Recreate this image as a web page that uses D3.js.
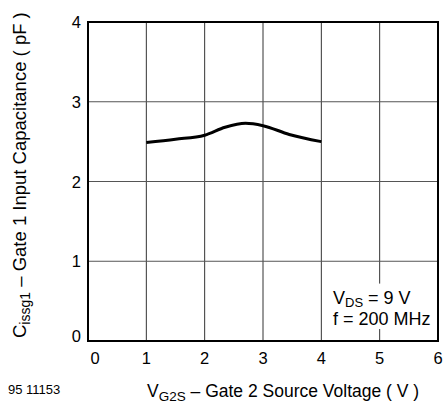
<!DOCTYPE html>
<html>
<head>
<meta charset="utf-8">
<script src="https://cdn.jsdelivr.net/npm/d3@7"></script>
<style>
  body { margin: 0; background: #fff; }
  text { font-family: "Liberation Sans", Arial, sans-serif; fill: #000; }
</style>
</head>
<body>
<div id="app"></div>
<script>
// Data
const vg2s = [1, 1.5, 2, 2.35, 2.7, 3, 3.45, 4];
const ciss = [2.49, 2.53, 2.58, 2.68, 2.73, 2.70, 2.59, 2.50];
const xTicks = [0, 1, 2, 3, 4, 5, 6];
const yTicks = [0, 1, 2, 3, 4];

const width = 444, height = 403;
const margin = { left: 88, top: 22, right: 6, bottom: 62 };

const x = d3.scaleLinear().domain([0, 6]).range([margin.left, width - margin.right]);
const y = d3.scaleLinear().domain([0, 4]).range([height - margin.bottom, margin.top]);

const svg = d3.select('#app').append('svg')
    .attr('width', width)
    .attr('height', height);

// grid
svg.append('g')
    .selectAll('line')
    .data(xTicks.slice(1, -1))
    .enter().append('line')
    .attr('x1', d => x(d)).attr('x2', d => x(d))
    .attr('y1', y(0)).attr('y2', y(4))
    .attr('stroke', '#333')
    .attr('stroke-width', 1);

svg.append('g')
    .selectAll('line')
    .data(yTicks.slice(1, -1))
    .enter().append('line')
    .attr('x1', x(0)).attr('x2', x(6))
    .attr('y1', d => y(d)).attr('y2', d => y(d))
    .attr('stroke', '#555')
    .attr('stroke-width', 1);

// legend box (white behind text)
svg.append('rect')
    .attr('x', x(4.1)).attr('y', y(0.72))
    .attr('width', x(5.95) - x(4.1)).attr('height', y(0.15) - y(0.72))
    .attr('fill', '#fff');

// frame
svg.append('rect')
    .attr('x', x(0)).attr('y', y(4))
    .attr('width', x(6) - x(0)).attr('height', y(0) - y(4))
    .attr('fill', 'none')
    .attr('stroke', '#000')
    .attr('stroke-width', 2);

// curve
const line = d3.line()
    .x((d, i) => x(vg2s[i]))
    .y(d => y(d))
    .curve(d3.curveMonotoneX);

svg.append('path')
    .datum(ciss)
    .attr('d', line)
    .attr('fill', 'none')
    .attr('stroke', '#000')
    .attr('stroke-width', 3);

// tick labels
svg.append('g')
    .selectAll('text')
    .data(xTicks)
    .enter().append('text')
    .attr('x', d => x(d) + (d === 0 ? 7 : 0))
    .attr('y', y(0) + 23)
    .attr('text-anchor', 'middle')
    .style('font-size', '16.5px')
    .text(d => d);

svg.append('g')
    .selectAll('text')
    .data(yTicks)
    .enter().append('text')
    .attr('x', x(0) - 7)
    .attr('y', d => y(d) + 6 - (d === 0 ? 5 : 0))
    .attr('text-anchor', 'end')
    .style('font-size', '16.5px')
    .text(d => d);

// legend text
const leg = svg.append('text')
    .attr('x', 333).attr('y', 304)
    .style('font-size', '18px');
leg.append('tspan').text('V');
leg.append('tspan').attr('dy', 3).style('font-size', '13px').text('DS');
leg.append('tspan').attr('dy', -3).text(' = 9 V');

svg.append('text')
    .attr('x', 333).attr('y', 325)
    .style('font-size', '18px')
    .text('f = 200 MHz');

// x axis title
const xt = svg.append('text')
    .attr('x', 147).attr('y', 397)
    .style('font-size', '17.5px');
xt.append('tspan').text('V');
xt.append('tspan').attr('dy', 4).style('font-size', '13.5px').text('G2S');
xt.append('tspan').attr('dy', -4).text(' – Gate 2 Source Voltage ( V )');

// y axis title
const yt = svg.append('text')
    .attr('transform', 'translate(26,338) rotate(-90)')
    .attr('x', 0).attr('y', 0)
    .style('font-size', '18.5px');
yt.append('tspan').text('C');
yt.append('tspan').attr('dy', 4).style('font-size', '14px').text('issg1');
yt.append('tspan').attr('dy', -4).text(' – Gate 1 Input Capacitance ( pF )');

// figure code
svg.append('text')
    .attr('x', 8).attr('y', 394)
    .style('font-size', '13px')
    .text('95 11153');
</script>
</body>
</html>
